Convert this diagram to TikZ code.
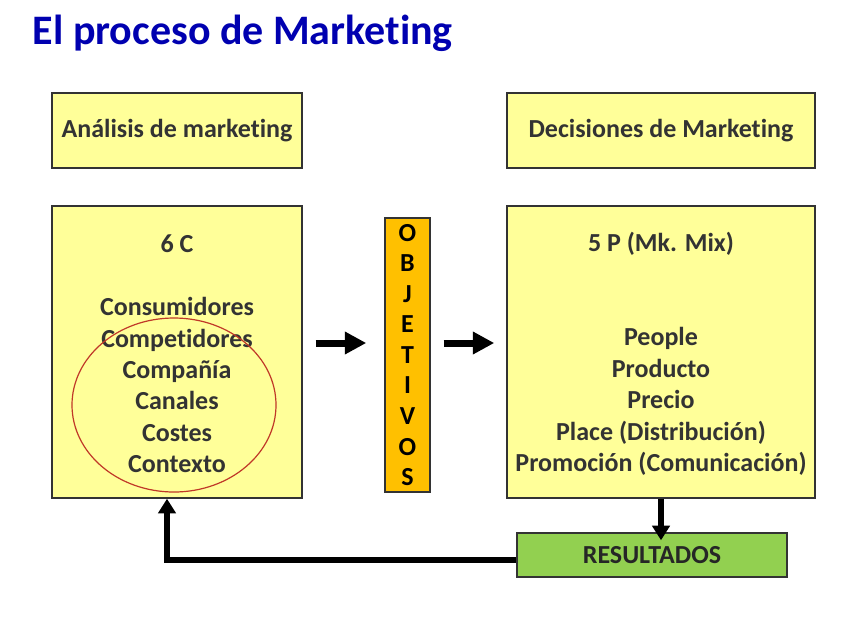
\documentclass[tikz,border=0pt]{standalone}
\usepackage{fontspec}
\setmainfont{Carlito}[Ligatures=NoCommon]
\usetikzlibrary{arrows.meta}
\definecolor{boxyellow}{RGB}{255,255,153}
\definecolor{objorange}{RGB}{255,192,0}
\definecolor{resgreen}{RGB}{146,208,80}
\definecolor{titleblue}{RGB}{0,0,176}
\definecolor{txtgray}{RGB}{51,51,51}
\definecolor{ringred}{RGB}{192,56,40}

\tikzset{
  ybox/.style={draw=black!80, line width=1.1pt, fill=boxyellow, text=txtgray,
    font=\fontsize{19.5}{23.6}\selectfont\bfseries, align=center, inner sep=0pt},
  bigarrow/.style={line width=5.25pt, -{Triangle[length=16pt, width=16pt]}},
  thinarrow/.style={line width=4pt, -{Triangle[length=11pt, width=13pt]}},
}

\begin{document}
\begin{tikzpicture}[x=0.75pt, y=-0.75pt]
\useasboundingbox (0,0) rectangle (848,636);
\node[anchor=west, text=titleblue, font=\fontsize{31.5}{36}\selectfont\bfseries] (title) at (28,33) {El proceso de Marketing};

\node[ybox, minimum width=187.5pt, minimum height=56.25pt] (analisis) at (177,130.5) {An\'alisis de marketing};
\node[ybox, minimum width=231pt, minimum height=56.25pt] (decisiones) at (661,130.5) {Decisiones de Marketing};

\node[ybox, minimum width=187.5pt, minimum height=219pt] (seisc) at (177,352) {};
\node[ybox, draw=none, fill=none] (seisctxt) at (177,354) {6 C\\ \\ Consumidores\\ Competidores\\ Compa\~n\'ia\\ Canales\\ Costes\\ Contexto};
\draw[ringred, line width=0.9pt] (174,405) ellipse [x radius=76.5pt, y radius=65.25pt];

\node[ybox, minimum width=231pt, minimum height=219pt] (cincop) at (661,352) {};
\node[ybox, draw=none, fill=none] (cincoptxt) at (661,354) {5 P (Mk. Mix)\\ \\ \\ People\\ Producto\\ Precio\\ Place (Distribuci\'on)\\ Promoci\'on (Comunicaci\'on)};

\node[ybox, fill=objorange, text=black, minimum width=33.75pt, minimum height=205.5pt,
  font=\fontsize{19.5}{22.9}\selectfont\bfseries] (objetivos) at (407.5,355) {O\\ B\\ J\\ E\\ T\\ I\\ V\\ O\\ S};

\node[ybox, fill=resgreen, text=black!85, minimum width=202.5pt, minimum height=33pt] (resultados) at (652,555) {RESULTADOS};

% flechas
\coordinate (a1) at ([xshift=9.75pt, yshift=6.75pt]seisc.east);
\coordinate (a2) at ([xshift=-13.5pt]objetivos.west|-a1);
\coordinate (b1) at ([xshift=9.75pt]objetivos.east|-a1);
\coordinate (b2) at ([xshift=-9pt]cincop.west|-a1);
\draw[bigarrow] (a1) -- (a2);
\draw[bigarrow] (b1) -- (b2);
\draw[thinarrow] (cincop.south) -- ([yshift=-6pt]resultados.north-|cincop.south);
\draw[thinarrow] ([yshift=-3.75pt]resultados.west) -| ([xshift=-7.5pt]seisc.south);
\end{tikzpicture}
\end{document}
